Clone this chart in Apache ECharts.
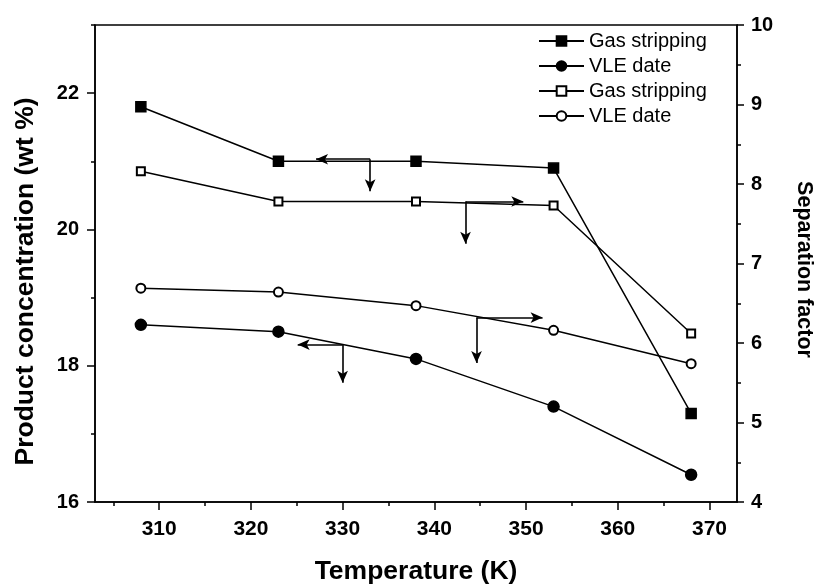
<!DOCTYPE html>
<html>
<head>
<meta charset="utf-8">
<title>Temperature - concentration / separation factor</title>
<script src="https://cdn.jsdelivr.net/npm/echarts@6/dist/echarts.min.js"></script>
<style>
html, body { margin: 0; padding: 0; background: #fff; }
#main { width: 818px; height: 584px; }
</style>
</head>
<body>
<div id="main"></div>
<script>
// 温度 (K)
var temperature = [308, 323, 338, 353, 368];
// 左轴：产品浓度 (wt %)
var gasConc = [21.8, 21.0, 21.0, 20.9, 17.3];
var vleConc = [18.6, 18.5, 18.1, 17.4, 16.4];
// 右轴：分离因子
var gasSep = [8.16, 7.78, 7.78, 7.73, 6.12];
var vleSep = [6.69, 6.64, 6.47, 6.16, 5.74];

// 刻度
var xTicks = [310, 320, 330, 340, 350, 360, 370];
var xMinorTicks = [305, 315, 325, 335, 345, 355, 365];
var leftTicks = [16, 18, 20, 22];
var leftMinorTicks = [17, 19, 21, 23];
var rightTicks = [4, 5, 6, 7, 8, 9, 10];
var rightMinorTicks = [4.5, 5.5, 6.5, 7.5, 8.5, 9.5];

// 箭头：[交点x, 交点y, 横向箭头终点x, 向下箭头终点y]
var arrowGasConc = [333, 21.03, 327.1, 20.56];
var arrowVleConc = [330, 18.31, 325.1, 17.75];
var arrowGasSep = [343.4, 7.78, 349.7, 7.25];
var arrowVleSep = [344.6, 6.32, 351.8, 5.75];

var FONT = "'Liberation Sans', Arial, sans-serif";

function pairs(xs, ys)
{
    var out = [];
    for (var i = 0; i < xs.length; i++) {
        out.push([xs[i], ys[i]]);
    }
    return out;
}

function arrowLines(a)
{
    return [
        [{ coord: [a[0], a[1]] }, { coord: [a[2], a[1]] }],
        [{ coord: [a[0], a[1]] }, { coord: [a[0], a[3]] }]
    ];
}

function markArrows(a)
{
    return {
        silent: true,
        symbol: ['none', 'arrow'],
        symbolSize: [8, 12],
        label: { show: false },
        lineStyle: { color: '#000', type: 'solid', width: 1.6 },
        emphasis: { disabled: true },
        data: arrowLines(a)
    };
}

function lineSeries(name, yIndex, symbol, size, data, arrows)
{
    return {
        name: name,
        type: 'line',
        xAxisIndex: 0,
        yAxisIndex: yIndex,
        symbol: symbol,
        symbolSize: size,
        showAllSymbol: true,
        lineStyle: { color: '#000', width: 1.5 },
        itemStyle: { color: '#000', borderColor: '#000', borderWidth: 1.5 },
        data: data,
        markLine: markArrows(arrows)
    };
}

var myChart = echarts.init(document.getElementById('main'));

var tickLabel = { color: '#000', fontFamily: FONT, fontWeight: 'bold', fontSize: 20 };
var axisNameStyle = { color: '#000', fontFamily: FONT, fontWeight: 'bold', fontSize: 26.5 };

var option = {
    animation: false,
    backgroundColor: '#fff',
    grid: {
        left: 95, right: 81, top: 25, bottom: 82,
        containLabel: false,
        outerBoundsMode: 'none',
        show: true, borderColor: '#000', borderWidth: 1.5
    },
    legend: {
        orient: 'vertical',
        left: 538,
        top: 31,
        padding: 0,
        itemWidth: 45,
        itemHeight: 12,
        itemGap: 5,
        selectedMode: false,
        textStyle: { color: '#000', fontFamily: FONT, fontSize: 20 },
        data: ['Gas stripping', 'VLE date', 'Gas stripping ', 'VLE date ']
    },
    xAxis: [
        {
            type: 'value',
            min: 303,
            max: 373,
            name: 'Temperature (K)',
            nameLocation: 'middle',
            nameGap: 56,
            nameTextStyle: axisNameStyle,
            axisLine: { lineStyle: { color: '#000', width: 1.5 } },
            axisTick: { inside: false, length: 8, customValues: xTicks, lineStyle: { color: '#000', width: 1.5 } },
            axisLabel: Object.assign({}, tickLabel, { margin: 17, fontSize: 21, customValues: xTicks }),
            splitLine: { show: false }
        },
        {
            // 次刻度
            type: 'value',
            min: 303,
            max: 373,
            position: 'bottom',
            axisLine: { show: false },
            axisTick: { length: 4, customValues: xMinorTicks, lineStyle: { color: '#000', width: 1.5 } },
            axisLabel: { show: false },
            splitLine: { show: false }
        }
    ],
    yAxis: [
        {
            type: 'value',
            position: 'left',
            min: 16,
            max: 23,
            name: 'Product concentration (wt %)',
            nameLocation: 'middle',
            nameGap: 56,
            nameTextStyle: Object.assign({}, axisNameStyle, { padding: [0, 36, 0, 0] }),
            axisLine: { show: true, lineStyle: { color: '#000', width: 1.5 } },
            axisTick: { show: true, length: 8, customValues: leftTicks, lineStyle: { color: '#000', width: 1.5 } },
            axisLabel: Object.assign({}, tickLabel, { margin: 16, customValues: leftTicks }),
            splitLine: { show: false }
        },
        {
            type: 'value',
            position: 'right',
            min: 4,
            max: 10,
            name: 'Separation factor',
            nameLocation: 'middle',
            nameRotate: -90,
            nameGap: 56,
            nameTextStyle: Object.assign({}, axisNameStyle, { fontSize: 21.5, padding: [0, 0, 0, 12] }),
            axisLine: { show: true, lineStyle: { color: '#000', width: 1.5 } },
            axisTick: { show: true, length: 7, customValues: rightTicks, lineStyle: { color: '#000', width: 1.5 } },
            axisLabel: Object.assign({}, tickLabel, { margin: 14, customValues: rightTicks }),
            splitLine: { show: false }
        },
        {
            // 左轴次刻度
            type: 'value',
            position: 'left',
            min: 16,
            max: 23,
            axisLine: { show: false },
            axisTick: { show: true, length: 4, customValues: leftMinorTicks, lineStyle: { color: '#000', width: 1.5 } },
            axisLabel: { show: false },
            splitLine: { show: false }
        },
        {
            // 右轴次刻度
            type: 'value',
            position: 'right',
            min: 4,
            max: 10,
            axisLine: { show: false },
            axisTick: { show: true, length: 4, customValues: rightMinorTicks, lineStyle: { color: '#000', width: 1.5 } },
            axisLabel: { show: false },
            splitLine: { show: false }
        }
    ],
    series: [
        lineSeries('Gas stripping', 0, 'rect', 10, pairs(temperature, gasConc), arrowGasConc),
        lineSeries('VLE date', 0, 'circle', 11, pairs(temperature, vleConc), arrowVleConc),
        lineSeries('Gas stripping ', 1, 'emptyRect', 8, pairs(temperature, gasSep), arrowGasSep),
        lineSeries('VLE date ', 1, 'emptyCircle', 9, pairs(temperature, vleSep), arrowVleSep)
    ]
};

myChart.setOption(option);
</script>
</body>
</html>
